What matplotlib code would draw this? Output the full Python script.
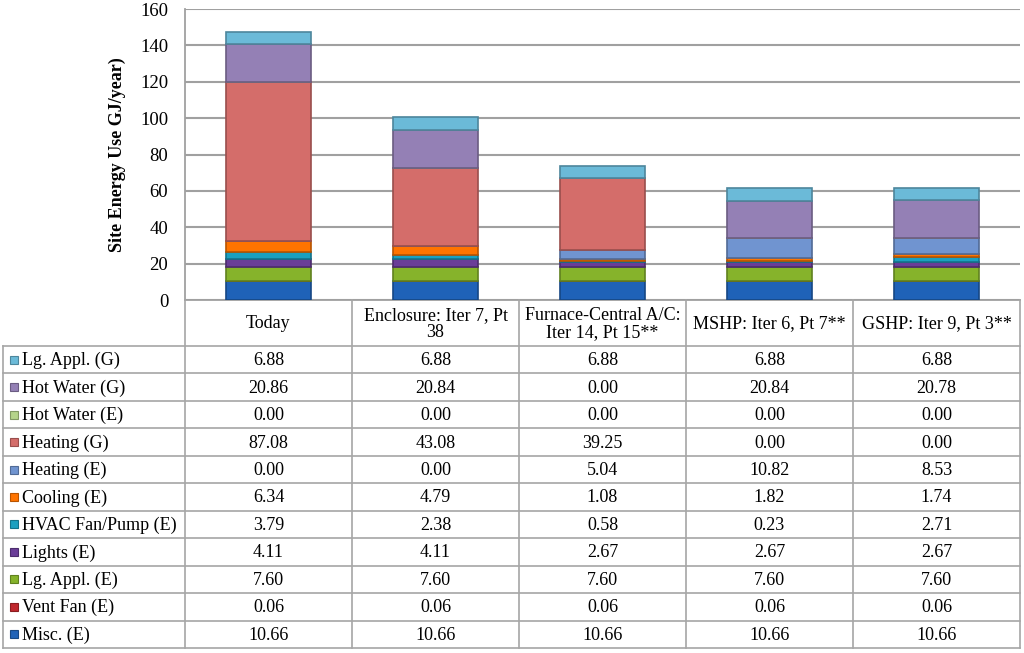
import matplotlib
matplotlib.use("Agg")
import matplotlib.pyplot as plt
import numpy as np

plt.rcParams['font.family'] = ['Liberation Serif', 'DejaVu Serif']

scenarios = ["Today", "Enclosure: Iter 7, Pt\n38", "Furnace-Central A/C:\nIter 14, Pt 15**",
             "MSHP: Iter 6, Pt 7**", "GSHP: Iter 9, Pt 3**"]

# end uses, listed from the bottom of the stack upwards
end_uses = ["Misc. (E)", "Vent Fan (E)", "Lg. Appl. (E)", "Lights (E)", "HVAC Fan/Pump (E)",
            "Cooling (E)", "Heating (E)", "Heating (G)", "Hot Water (E)", "Hot Water (G)",
            "Lg. Appl. (G)"]

misc_e = [10.66, 10.66, 10.66, 10.66, 10.66]
vent_fan_e = [0.06, 0.06, 0.06, 0.06, 0.06]
lg_appl_e = [7.60, 7.60, 7.60, 7.60, 7.60]
lights_e = [4.11, 4.11, 2.67, 2.67, 2.67]
hvac_fan_e = [3.79, 2.38, 0.58, 0.23, 2.71]
cooling_e = [6.34, 4.79, 1.08, 1.82, 1.74]
heating_e = [0.00, 0.00, 5.04, 10.82, 8.53]
heating_g = [87.08, 43.08, 39.25, 0.00, 0.00]
hot_water_e = [0.00, 0.00, 0.00, 0.00, 0.00]
hot_water_g = [20.86, 20.84, 0.00, 20.84, 20.78]
lg_appl_g = [6.88, 6.88, 6.88, 6.88, 6.88]

series = [misc_e, vent_fan_e, lg_appl_e, lights_e, hvac_fan_e, cooling_e,
          heating_e, heating_g, hot_water_e, hot_water_g, lg_appl_g]

colors = ["#1F62B8", "#C0272D", "#86B32B", "#6A3D98", "#1BA0C0", "#FF7400",
          "#7094D0", "#D46D6A", "#B5D48A", "#9480B5", "#6BBAD8"]


def darker(c, f=0.72):
    rgb = np.array(matplotlib.colors.to_rgb(c))
    return tuple(rgb * f)


fig = plt.figure(figsize=(10.24, 6.53), dpi=100)
W, H = 1024, 653
left, right, top, bottom = 185, 1020, 9, 300
ax = fig.add_axes([left / W, 1 - bottom / H, (right - left) / W, (bottom - top) / H])

x = np.arange(len(scenarios))
base = np.zeros(len(scenarios))
for vals, col in zip(series, colors):
    ax.bar(x, vals, 0.51, bottom=base, color=col, edgecolor=darker(col), linewidth=1.2, zorder=3)
    base += np.array(vals)

ax.set_xlim(-0.5, len(scenarios) - 0.5)
ax.set_ylim(0, 160)
ax.set_yticks(range(0, 161, 20))
ax.yaxis.grid(True, color="#A0A0A0", linewidth=1.5, zorder=0)
ax.set_xticks([])
ax.tick_params(axis='y', length=0, labelsize=13.5, pad=12)
for s in ["top", "right"]:
    ax.spines[s].set_visible(False)
for s in ["left", "bottom"]:
    ax.spines[s].set_color("#A0A0A0")
    ax.spines[s].set_linewidth(1.3)
ax.set_ylabel("Site Energy Use GJ/year)", fontsize=13, fontweight="bold", labelpad=10)

# data table drawn underneath, in pixel coordinates
tx = fig.add_axes([0, 0, 1, 1])
tx.set_xlim(0, W)
tx.set_ylim(H, 0)
tx.axis("off")

grid_c = "#A6A6A6"
fs = 13
col_w = (right - left) / len(scenarios)
head_top, head_bot, tab_bot = bottom, 346, 648
row_h = (tab_bot - head_bot) / len(end_uses)

# header cells
for i, name in enumerate(scenarios):
    cx = left + col_w * (i + 0.5)
    tx.text(cx, (head_top + head_bot) / 2 + 1, name, ha="center", va="center",
            fontsize=fs, linespacing=0.95)
for i in range(len(scenarios) + 1):
    xx = left + col_w * i
    tx.plot([xx, xx], [head_top, tab_bot], color=grid_c, lw=1.2)
tx.plot([3, 3], [head_bot, tab_bot], color=grid_c, lw=1.2)

# rows, top row is the top of the stack
rows = list(zip(end_uses, series, colors))[::-1]
for r, (name, vals, col) in enumerate(rows):
    y0 = head_bot + r * row_h
    tx.plot([3, right], [y0, y0], color=grid_c, lw=1.2)
    cy = y0 + row_h / 2
    tx.add_patch(plt.Rectangle((10, cy - 4), 8, 8, facecolor=col, edgecolor=darker(col), lw=0.8))
    tx.text(22, cy + 1, name, ha="left", va="center", fontsize=fs)
    for i, v in enumerate(vals):
        tx.text(left + col_w * (i + 0.5), cy + 1, "%.2f" % v, ha="center", va="center", fontsize=fs)
tx.plot([3, right], [tab_bot, tab_bot], color=grid_c, lw=1.2)

fig.savefig("out.png", dpi=100)
